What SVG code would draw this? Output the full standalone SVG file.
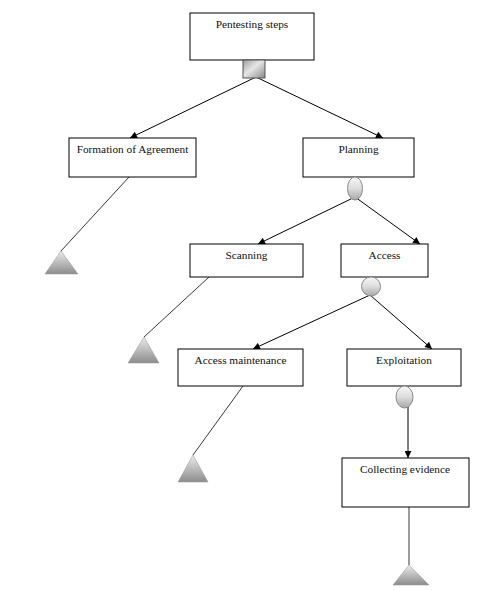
<svg xmlns="http://www.w3.org/2000/svg" width="493" height="591" viewBox="0 0 493 591">
<style>
.box{fill:#fff;stroke:#000;stroke-width:1}
.lbl{font-family:"Liberation Serif","Times New Roman",serif;font-size:11.3px;fill:#111;text-anchor:middle}
.arr{stroke:#000;stroke-width:1;fill:none;marker-end:url(#ah)}
.ln{stroke:#222;stroke-width:0.9;fill:none}
.ell{fill:url(#eg);stroke:#8a8a8a;stroke-width:1}
.tri{fill:url(#tg);stroke:#a0a0a0;stroke-width:0.6}
</style>
<defs>
<marker id="ah" viewBox="0 0 10 10" refX="10" refY="5" markerWidth="8" markerHeight="7" markerUnits="userSpaceOnUse" orient="auto">
<path d="M0,0 L10,5 L0,10 Z" fill="#000"/>
</marker>
<linearGradient id="eg" x1="0" y1="0" x2="0" y2="1">
<stop offset="0" stop-color="#f8f8f8"/>
<stop offset="0.5" stop-color="#dcdcdc"/>
<stop offset="1" stop-color="#a8a8a8"/>
</linearGradient>
<linearGradient id="tg" x1="0" y1="0" x2="0" y2="1">
<stop offset="0" stop-color="#ececec"/>
<stop offset="1" stop-color="#8c8c8c"/>
</linearGradient>
<linearGradient id="sg" x1="0" y1="0" x2="1" y2="1">
<stop offset="0" stop-color="#9a9a9a"/>
<stop offset="0.45" stop-color="#e6e6e6"/>
<stop offset="1" stop-color="#8a8a8a"/>
</linearGradient>
</defs>
<rect width="493" height="591" fill="#fff"/>
<g id="connectors">
<line class="arr" x1="256" y1="77" x2="130" y2="138"/>
<line class="arr" x1="256" y1="77" x2="383" y2="138"/>
<line class="arr" x1="355" y1="197" x2="258" y2="244"/>
<line class="arr" x1="355" y1="197" x2="420" y2="244"/>
<line class="arr" x1="370" y1="295" x2="253" y2="349"/>
<line class="arr" x1="370" y1="295" x2="432" y2="349"/>
<line class="arr" x1="408" y1="407" x2="408" y2="458"/>
<line class="ln" x1="129" y1="177" x2="61" y2="251"/>
<line class="ln" x1="209" y1="277" x2="144" y2="337"/>
<line class="ln" x1="243" y1="386" x2="193" y2="455"/>
<line class="ln" x1="409" y1="507" x2="409" y2="565"/>
</g>
<g id="n-pentesting">
<rect class="box" x="190" y="13" width="124" height="47"/>
<text class="lbl" x="252" y="28">Pentesting steps</text>
<rect x="243" y="60" width="22" height="18" fill="url(#sg)" stroke="#555" stroke-width="1"/>
</g>
<g id="n-formation">
<rect class="box" x="69" y="138" width="127" height="39"/>
<text class="lbl" x="132.5" y="153">Formation of Agreement</text>
</g>
<g id="n-planning">
<rect class="box" x="303" y="138" width="111" height="39"/>
<text class="lbl" x="358.5" y="153">Planning</text>
<ellipse class="ell" cx="355" cy="188.5" rx="7.5" ry="11.5"/>
</g>
<g id="n-scanning">
<rect class="box" x="190" y="244" width="113" height="33"/>
<text class="lbl" x="246.5" y="259">Scanning</text>
</g>
<g id="n-access">
<rect class="box" x="341" y="244" width="87" height="33"/>
<text class="lbl" x="384.5" y="259">Access</text>
<ellipse class="ell" cx="371" cy="286.5" rx="9.5" ry="9.5"/>
</g>
<g id="n-access-maintenance">
<rect class="box" x="178" y="349" width="125" height="37"/>
<text class="lbl" x="240.5" y="364">Access maintenance</text>
</g>
<g id="n-exploitation">
<rect class="box" x="347" y="349" width="114" height="37"/>
<text class="lbl" x="404" y="364">Exploitation</text>
<ellipse class="ell" cx="404.5" cy="397" rx="8.5" ry="11"/>
</g>
<g id="n-collecting">
<rect class="box" x="342" y="458" width="127" height="49"/>
<text class="lbl" x="405" y="473">Collecting evidence</text>
</g>
<g id="t-formation"><polygon class="tri" points="61,251 78,274 45,274"/></g>
<g id="t-scanning"><polygon class="tri" points="144,337 159,363 128,363"/></g>
<g id="t-access-maintenance"><polygon class="tri" points="193,455 208,482 178,482"/></g>
<g id="t-collecting"><polygon class="tri" points="409,565 429,585 393,585"/></g>
</svg>
